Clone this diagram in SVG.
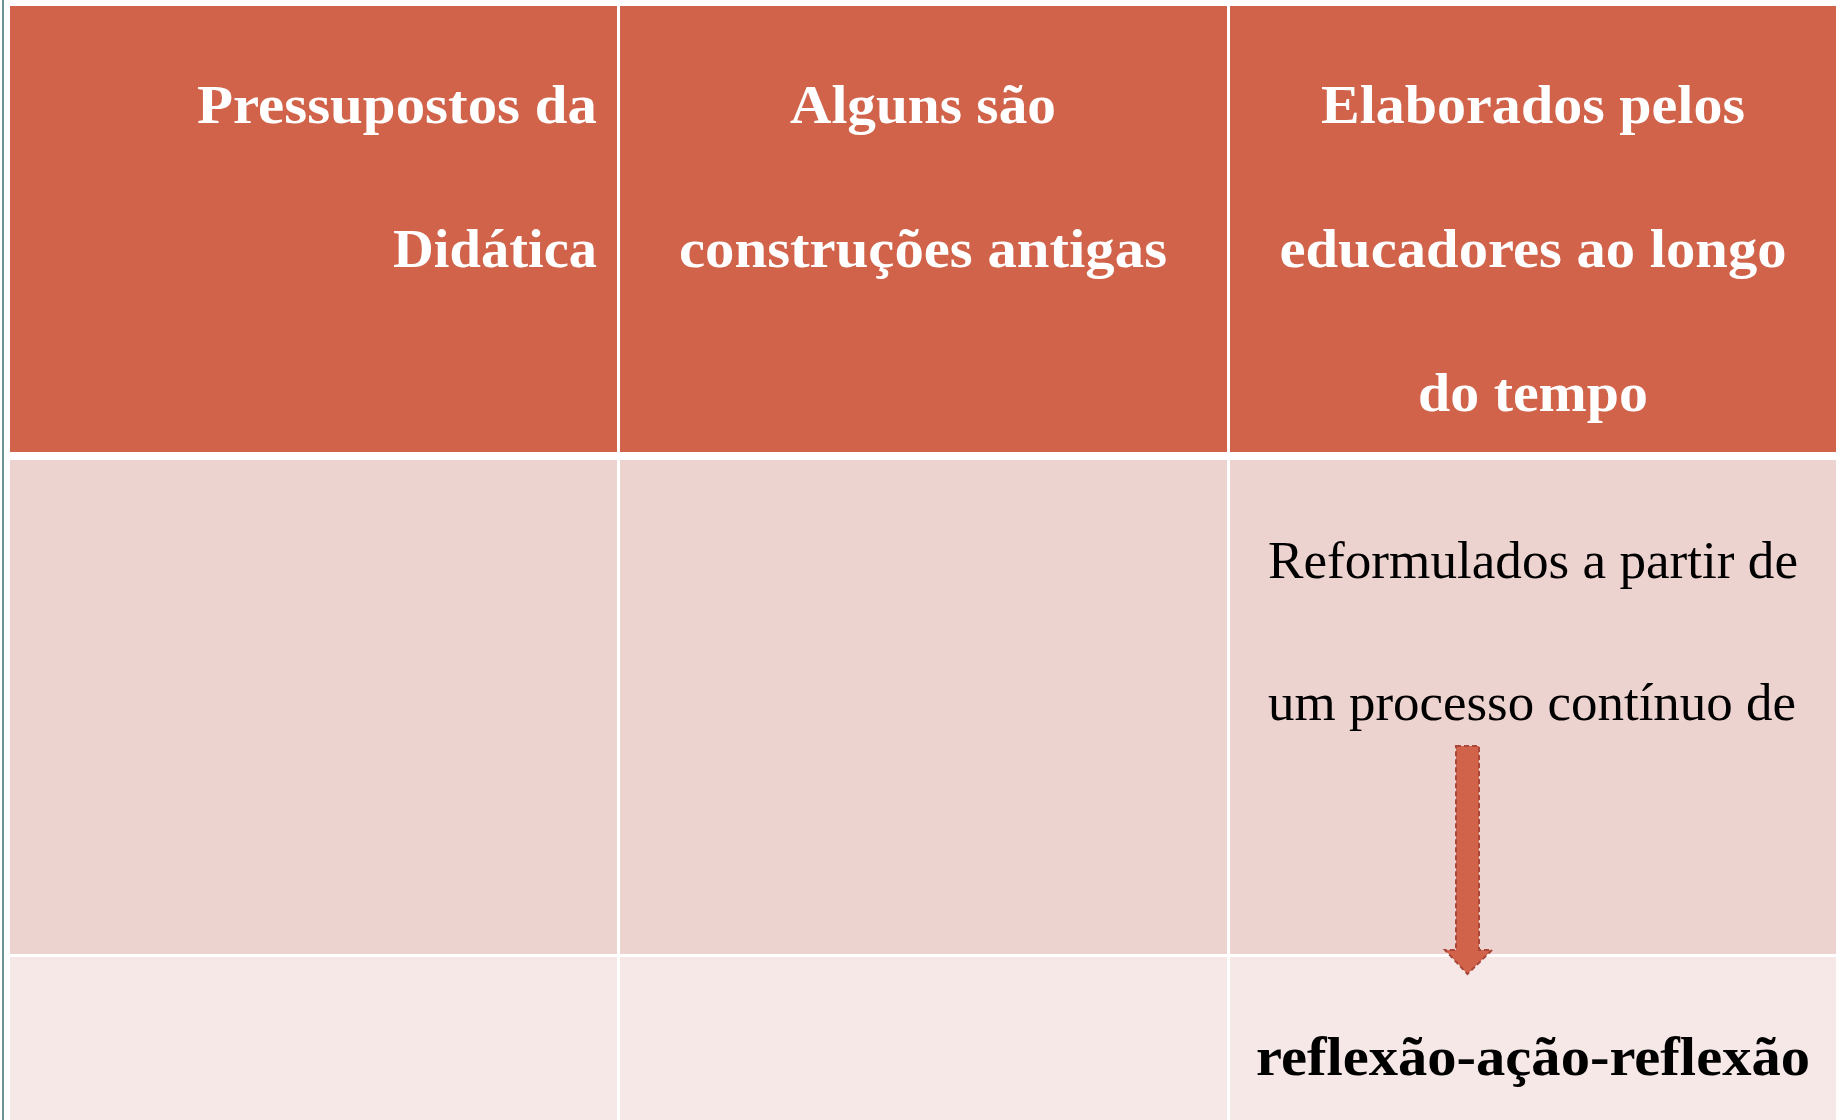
<svg xmlns="http://www.w3.org/2000/svg" width="1843" height="1120" viewBox="0 0 1843 1120">
<style>
.hdr{fill:#D0634A}
.r2{fill:#EDD3CF}
.r3{fill:#F6E8E7}
.ht{font-family:"Liberation Serif","Times New Roman",serif;font-weight:bold;font-size:54px;fill:#FFFFFF}
.bt{font-family:"Liberation Serif","Times New Roman",serif;font-size:53px;fill:#000000}
.bb{font-family:"Liberation Serif","Times New Roman",serif;font-weight:bold;font-size:54px;fill:#000000}
</style>
<rect x="0" y="0" width="1843" height="1120" fill="#FFFFFF"/>
<rect x="2" y="0" width="2" height="1120" fill="#6E9494"/>
<g id="table">
  <g id="header-row">
    <rect class="hdr" x="10" y="6" width="607" height="446"/>
    <rect class="hdr" x="620" y="6" width="607" height="446"/>
    <rect class="hdr" x="1230" y="6" width="606" height="446"/>
  </g>
  <g id="row2">
    <rect class="r2" x="10" y="460" width="607" height="494"/>
    <rect class="r2" x="620" y="460" width="607" height="494"/>
    <rect class="r2" x="1230" y="460" width="606" height="494"/>
  </g>
  <g id="row3">
    <rect class="r3" x="10" y="957" width="607" height="163"/>
    <rect class="r3" x="620" y="957" width="607" height="163"/>
    <rect class="r3" x="1230" y="957" width="606" height="163"/>
  </g>
</g>
<g id="node-pressupostos">
  <text class="ht" x="597" y="123" text-anchor="end" textLength="400" lengthAdjust="spacingAndGlyphs">Pressupostos da</text>
  <text class="ht" x="597" y="267" text-anchor="end" textLength="204" lengthAdjust="spacingAndGlyphs">Didática</text>
</g>
<g id="node-alguns">
  <text class="ht" x="923" y="123" text-anchor="middle" textLength="266" lengthAdjust="spacingAndGlyphs">Alguns são</text>
  <text class="ht" x="923" y="267" text-anchor="middle" textLength="488" lengthAdjust="spacingAndGlyphs">construções antigas</text>
</g>
<g id="node-elaborados">
  <text class="ht" x="1533" y="123" text-anchor="middle" textLength="424" lengthAdjust="spacingAndGlyphs">Elaborados pelos</text>
  <text class="ht" x="1533" y="267" text-anchor="middle" textLength="507" lengthAdjust="spacingAndGlyphs">educadores ao longo</text>
  <text class="ht" x="1533" y="411" text-anchor="middle" textLength="230" lengthAdjust="spacingAndGlyphs">do tempo</text>
</g>
<g id="node-reformulados">
  <text class="bt" x="1268" y="578" textLength="530" lengthAdjust="spacingAndGlyphs">Reformulados a partir de</text>
  <text class="bt" x="1268" y="720" textLength="528" lengthAdjust="spacingAndGlyphs">um processo contínuo de</text>
</g>
<g id="node-reflexao">
  <text class="bb" x="1533" y="1075" text-anchor="middle" textLength="554" lengthAdjust="spacingAndGlyphs">reflexão-ação-reflexão</text>
</g>
<g id="connectors">
  <path d="M1456 746 L1479 746 L1479 950 L1492 950 L1467.5 974 L1445 950 L1456 950 Z" fill="#D0634A" stroke="#A9473A" stroke-width="2" stroke-dasharray="5 3"/>
</g>
</svg>
